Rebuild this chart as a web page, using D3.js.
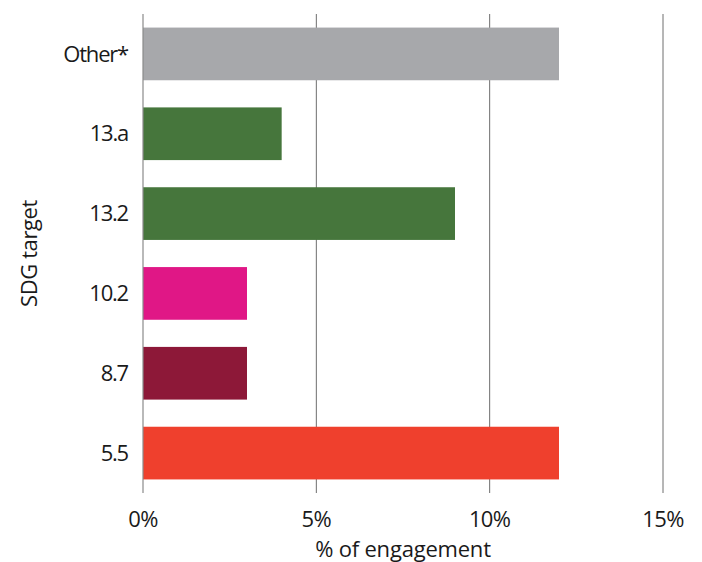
<!DOCTYPE html>
<html>
<head>
<meta charset="utf-8">
<script src="https://cdn.jsdelivr.net/npm/d3@7"></script>
<style>
  body { margin: 0; background: #fff; }
  text { font-family: "Open Sans", "Noto Sans", sans-serif; fill: #1a1a1a; }
</style>
</head>
<body>
<div id="chart"></div>
<script>
// SDG targets, top to bottom
const targets = ['Other*', '13.a', '13.2', '10.2', '8.7', '5.5'];
const engagement = [12, 4, 9, 3, 3, 12];
const barColors = ['#a7a8ab', '#46763c', '#46763c', '#e01786', '#8d1838', '#ef402d'];
const xTicks = [0, 5, 10, 15];

const width = 702, height = 562;
const margin = { top: 14, right: 39, bottom: 69, left: 143 };
const innerW = width - margin.left - margin.right;
const innerH = height - margin.top - margin.bottom;

const svg = d3.select('#chart')
  .append('svg')
  .attr('width', width)
  .attr('height', height);

const g = svg.append('g')
  .attr('transform', `translate(${margin.left},${margin.top})`);

const x = d3.scaleLinear()
  .domain([0, 15])
  .range([0, innerW]);

const y = d3.scaleBand()
  .domain(targets)
  .range([0, innerH])
  .paddingInner(0.34)
  .paddingOuter(0.17);

// vertical grid lines (5%, 10%, 15%)
g.selectAll('line.grid')
  .data(xTicks.slice(1))
  .enter()
  .append('line')
  .attr('class', 'grid')
  .attr('x1', d => x(d))
  .attr('x2', d => x(d))
  .attr('y1', 0)
  .attr('y2', innerH)
  .attr('stroke', '#6e6e6e')
  .attr('stroke-width', 1);

// bars
g.selectAll('rect')
  .data(targets)
  .enter()
  .append('rect')
  .attr('x', x(0))
  .attr('y', d => y(d))
  .attr('width', (d, i) => x(engagement[i]) - x(0))
  .attr('height', y.bandwidth())
  .attr('fill', (d, i) => barColors[i]);

// y axis line
g.append('line')
  .attr('x1', x(0)).attr('x2', x(0))
  .attr('y1', 0).attr('y2', innerH)
  .attr('stroke', '#8a8a8a')
  .attr('stroke-width', 1.2);

// category labels
g.selectAll('text.cat')
  .data(targets)
  .enter()
  .append('text')
  .attr('class', 'cat')
  .attr('x', -15)
  .attr('y', d => y(d) + y.bandwidth() / 2)
  .attr('dy', '0.35em')
  .attr('text-anchor', 'end')
  .style('font-size', '22px')
  .style('letter-spacing', '-1.2px')
  .text(d => d);

// x tick labels
g.selectAll('text.tick')
  .data(xTicks)
  .enter()
  .append('text')
  .attr('class', 'tick')
  .attr('x', d => x(d))
  .attr('y', innerH + 34)
  .attr('text-anchor', 'middle')
  .style('font-size', '22px')
  .style('letter-spacing', '-0.6px')
  .text(d => d + '%');

// axis titles
svg.append('text')
  .attr('x', margin.left + x(7.5))
  .attr('y', 557)
  .attr('text-anchor', 'middle')
  .style('font-size', '22px')
  .style('letter-spacing', '-0.2px')
  .text('% of engagement');

svg.append('text')
  .attr('transform', `translate(37,${margin.top + innerH / 2}) rotate(-90)`)
  .attr('text-anchor', 'middle')
  .style('font-size', '22px')
  .style('letter-spacing', '-0.4px')
  .text('SDG target');
</script>
</body>
</html>
